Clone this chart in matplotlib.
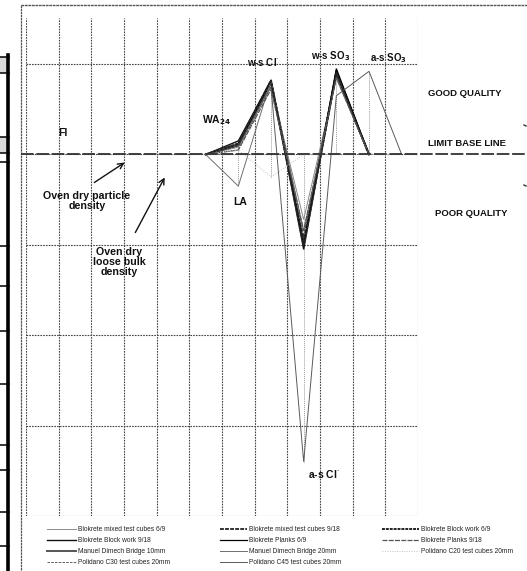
import numpy as np
import matplotlib
matplotlib.use("Agg")
import matplotlib.pyplot as plt
from matplotlib.lines import Line2D
from matplotlib.patches import Rectangle

plt.rcParams['font.family'] = ['Liberation Sans', 'DejaVu Sans']

# Twelve property columns; results are plotted from column 5 onward
n_cols = 12
x_data = [5, 6, 7, 8, 9, 10, 11]
nan = np.nan

series_names = [
    "Blokrete mixed test cubes 6/9",
    "Blokrete Block work 9/18",
    "Manuel Dimech Bridge 10mm",
    "Polidano C30 test cubes 20mm",
    "Blokrete mixed test cubes 9/18",
    "Blokrete Planks 6/9",
    "Manuel Dimech Bridge 20mm",
    "Polidano C45 test cubes 20mm",
    "Blokrete Block work 6/9",
    "Blokrete Planks 9/18",
    "Polidano C20 test cubes 20mm",
]

mixed_6_9 = [0, 0.08, 0.75, -0.72, 0.85, 0, nan]
block_9_18 = [0, 0.15, 0.82, -1.05, 0.93, 0, nan]
dimech_10 = [0, 0.10, 0.80, -1.00, 0.90, 0, nan]
c30 = [0, 0.05, 0.78, -0.90, 0.88, 0, nan]
mixed_9_18 = [0, 0.12, 0.80, -0.95, 0.90, 0, nan]
planks_6_9 = [0, 0.10, 0.82, -1.00, 0.95, 0, nan]
dimech_20 = [0, -0.35, 0.82, -0.85, 0.85, 0, nan]
c45 = [0, 0.10, 0.75, -3.40, 0.65, 0.92, 0]
block_6_9 = [0, 0.12, 0.82, -1.00, 0.90, 0, nan]
planks_9_18 = [0, 0.05, 0.72, -0.84, 0.85, 0, nan]
c20 = [0, 0.05, -0.25, 0, 0, 0, 0]

series_values = [mixed_6_9, block_9_18, dimech_10, c30, mixed_9_18, planks_6_9,
                 dimech_20, c45, block_6_9, planks_9_18, c20]

styles = [
    dict(color='#8a8a8a', lw=0.7, ls='-'),
    dict(color='#111111', lw=1.0, ls='-'),
    dict(color='#555555', lw=1.4, ls='-'),
    dict(color='#444444', lw=0.6, ls=(0, (3, 1.5))),
    dict(color='#333333', lw=1.4, ls=(0, (2, 0.6))),
    dict(color='#000000', lw=0.9, ls='-'),
    dict(color='#6f6f6f', lw=0.7, ls='-'),
    dict(color='#5a5a5a', lw=0.7, ls='-'),
    dict(color='#222222', lw=1.4, ls=(0, (1.5, 0.5))),
    dict(color='#555555', lw=0.9, ls=(0, (4, 1))),
    dict(color='#c4c4c4', lw=0.7, ls=(0, (1, 1.5))),
]

W, H = 527, 571
fig = plt.figure(figsize=(W / 100, H / 100), dpi=100)

def fx(px):
    return px / W

def fy(py):
    return 1 - py / H

# Outer frame
frame_col = '#555555'
fig.add_artist(Line2D([fx(21), fx(527)], [fy(5), fy(5)], color=frame_col, lw=1.0, ls=(0, (2, 0.5))))
fig.add_artist(Line2D([fx(21), fx(21)], [fy(5), fy(571)], color=frame_col, lw=0.9, ls=(0, (2, 0.5))))

# Fragment of a neighbouring table on the left edge
fig.add_artist(Line2D([fx(8), fx(8)], [fy(55), fy(571)], color='black', lw=2.6))
for yy in [57, 73, 137, 153, 162, 246, 286, 331, 384, 445, 470, 512, 546]:
    fig.add_artist(Line2D([fx(0), fx(9)], [fy(yy), fy(yy)], color='black', lw=1.1))
for y0, y1 in [(57, 73), (137, 153)]:
    fig.add_artist(Rectangle((fx(0), fy(y1)), fx(7), fy(y0) - fy(y1), color='#d8d8d8', lw=0))

# Small marks at the right edge
for yy in [125, 185]:
    fig.add_artist(Line2D([fx(524), fx(526)], [fy(yy), fy(yy + 1)], color='#333333', lw=1.0))

ax = fig.add_axes([fx(26), fy(516), fx(418) - fx(26), fy(18) - fy(516)])
ax.set_xlim(-0.5, n_cols - 0.5)
ax.set_ylim(-4, 1.51)
for s in ax.spines.values():
    s.set_visible(False)
ax.set_xticks(np.arange(-0.5, n_cols, 1))
ax.set_yticks([-4, -3, -2, -1, 0, 1])
ax.tick_params(length=0, labelbottom=False, labelleft=False)
ax.grid(True, color='#444444', lw=0.8, ls=(0, (1.5, 1)))
ax.set_axisbelow(True)

# High-low lines across all series per column
vals = np.array(series_values, dtype=float)
for i, xc in enumerate(x_data[1:-1], start=1):
    col = vals[:, i]
    ax.vlines(xc, np.nanmin(col), np.nanmax(col), color='#9a9a9a', lw=0.7, ls=(0, (1, 1)))

handles = []
for name, v, st in zip(series_names, series_values, styles):
    h, = ax.plot(x_data, v, label=name, solid_joinstyle='miter', **st)
    handles.append(h)

# Limit base line across the figure
fig.add_artist(Line2D([fx(21), fx(527)], [fy(154.4), fy(154.4)], color='#333333', lw=1.3,
                      ls=(0, (7, 1.5))))

bold = dict(fontweight='bold', color='#111111')
fig.text(fx(58), fy(133), "FI", fontsize=7.5, ha='left', va='center', **bold)
fig.text(fx(87), fy(201), "Oven dry particle\ndensity", fontsize=7.7, ha='center', va='center',
         linespacing=1.0, **bold)
fig.text(fx(119), fy(262), "Oven dry\nloose bulk\ndensity", fontsize=7.7, ha='center', va='center',
         linespacing=1.0, **bold)
ax.annotate("", xy=(fx(127), fy(161)), xytext=(fx(92), fy(184)), xycoords='figure fraction',
            arrowprops=dict(arrowstyle='->', color='#111111', lw=1.0))
ax.annotate("", xy=(fx(166), fy(175)), xytext=(fx(134), fy(235)), xycoords='figure fraction',
            arrowprops=dict(arrowstyle='->', color='#111111', lw=1.0))

fig.text(fx(202), fy(120), r"WA$_{\mathbf{24}}$", fontsize=7.5, ha='left', va='center', **bold)
fig.text(fx(233), fy(202), "LA", fontsize=7.5, ha='left', va='center', **bold)
fig.text(fx(247), fy(62), r"w-s Cl$^{\cdot}$", fontsize=7, ha='left', va='center', **bold)
fig.text(fx(311), fy(56), r"w-s SO$_{\mathbf{3}}$", fontsize=7, ha='left', va='center', **bold)
fig.text(fx(370), fy(58), r"a-s SO$_{\mathbf{3}}$", fontsize=7, ha='left', va='center', **bold)
fig.text(fx(308), fy(474), r"a-s Cl$^{\cdot}$", fontsize=7.5, ha='left', va='center', **bold)

fig.text(fx(428), fy(94), "GOOD QUALITY", fontsize=6.8, ha='left', va='center', **bold)
fig.text(fx(428), fy(144), "LIMIT BASE LINE", fontsize=6.8, ha='left', va='center', **bold)
fig.text(fx(435), fy(214), "POOR QUALITY", fontsize=6.8, ha='left', va='center', **bold)

# Legend in three columns below the plot
leg_font = dict(family=['Liberation Sans Narrow', 'Liberation Sans'], size=4.8)
groups = [(handles[0:4], 47, 4.4), (handles[4:8], 220, 4.1), (handles[8:11], 382, 5.6)]
for hs, xl, hl in groups:
    lg = fig.legend(handles=hs, labels=[h.get_label() for h in hs], loc='upper left',
                    bbox_to_anchor=(fx(xl), fy(526)), frameon=False, prop=leg_font,
                    handlelength=hl, handletextpad=0.3, labelspacing=0.62, borderpad=0,
                    borderaxespad=0)
    for t in lg.get_texts():
        t.set_color('#222222')

fig.savefig("out.png", dpi=100)
